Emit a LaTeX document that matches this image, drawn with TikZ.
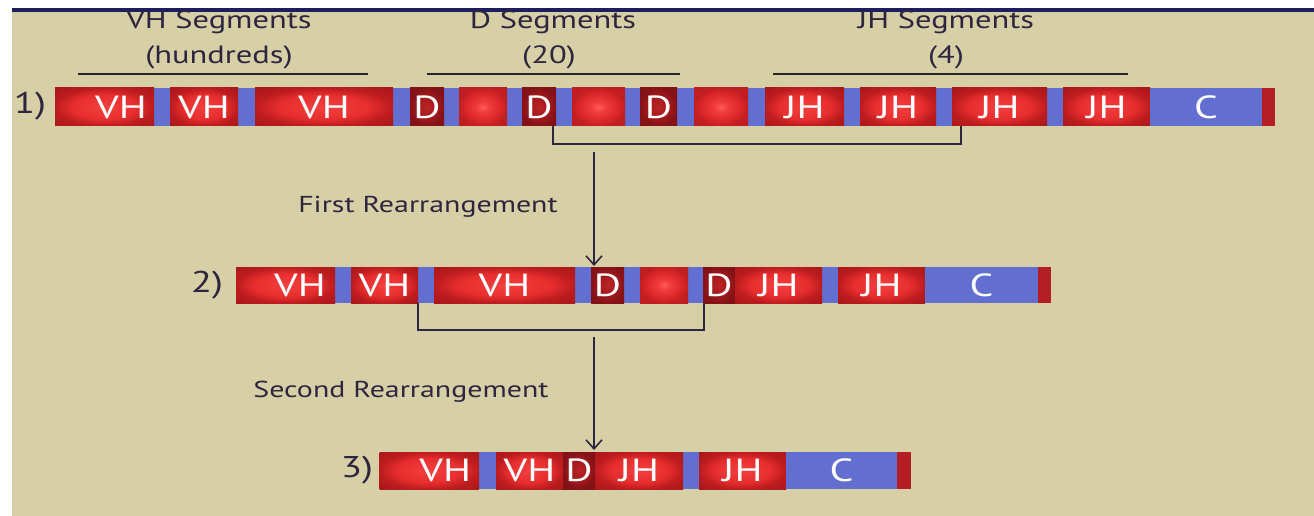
\documentclass[tikz,border=0pt]{standalone}
\usepackage{fontspec}
\setmainfont{PT Sans}
\newfontfamily\lblfont[FakeStretch=1.3]{PT Sans}
\usetikzlibrary{arrows.meta}
\definecolor{tanbg}{RGB}{215,207,166}
\definecolor{navy}{RGB}{28,30,95}
\definecolor{segblue}{RGB}{98,110,208}
\definecolor{endred}{RGB}{180,30,36}
\definecolor{ink}{RGB}{45,38,62}
\pgfdeclareradialshading{vhsh}{\pgfpoint{0bp}{0bp}}{rgb(0bp)=(0.95,0.25,0.25); rgb(16bp)=(0.91,0.18,0.18); rgb(25bp)=(0.74,0.11,0.12); rgb(36bp)=(0.66,0.09,0.10); rgb(50bp)=(0.66,0.09,0.10)}
\pgfdeclareradialshading{dotsh}{\pgfpoint{0bp}{0bp}}{rgb(0bp)=(1,0.36,0.36); rgb(7bp)=(0.95,0.23,0.23); rgb(20bp)=(0.84,0.14,0.15); rgb(25bp)=(0.76,0.12,0.13); rgb(50bp)=(0.72,0.11,0.12)}
\pgfdeclareradialshading{dsh}{\pgfpoint{0bp}{0bp}}{rgb(0bp)=(0.74,0.14,0.15); rgb(14bp)=(0.64,0.10,0.11); rgb(25bp)=(0.52,0.07,0.09); rgb(50bp)=(0.49,0.06,0.08)}
\tikzset{
  seg/.style={inner sep=0pt, outer sep=0pt, text=white, font=\lblfont\fontsize{32}{32}\selectfont},
  redseg/.style={seg, shade, shading=vhsh},
  dotseg/.style={seg, shade, shading=dotsh},
  dseg/.style={seg, shade, shading=dsh},
  blueseg/.style={seg, fill=segblue},
  endseg/.style={seg, fill=endred},
  lbl/.style={inner sep=0pt, text=ink, font=\lblfont\fontsize{25}{25}\selectfont},
  steplbl/.style={inner sep=0pt, text=ink, font=\lblfont\fontsize{23}{23}\selectfont},
  rowlbl/.style={inner sep=0pt, text=ink, font=\lblfont\fontsize{30}{30}\selectfont},
  rule/.style={draw=black!85, line width=1.8pt},
  bracket/.style={draw=ink, line width=1.8pt},
  arr/.style={draw=ink, line width=1.6pt, -{Straight Barb[length=9pt,width=16pt,line width=1.6pt]}}
}
\begin{document}
\begin{tikzpicture}[x=1pt,y=-1pt]
\useasboundingbox (0,0) rectangle (1314,516);
\fill[white] (0,0) rectangle (1314,516);
\fill[tanbg] (12,12) rectangle (1314,516);
\fill[navy] (12,8) rectangle (1314,12);

% header labels
\node[lbl] (vhs) at (219,22) {VH Segments};
\node[lbl] (vhn) at (219,57) {(hundreds)};
\node[lbl] (ds) at (553,22) {D Segments};
\node[lbl] (dn) at (549,57) {(20)};
\node[lbl] (jhs) at (946,22) {JH Segments};
\node[lbl] (jhn) at (946,57) {(4)};
\coordinate (l1a) at (78,74); \coordinate (l1b) at (368,74);
\coordinate (l2a) at (427,74); \coordinate (l2b) at (680,74);
\coordinate (l3a) at (773,74); \coordinate (l3b) at (1128,74);
\draw[rule] (l1a) -- (l1b);
\draw[rule] (l2a) -- (l2b);
\draw[rule] (l3a) -- (l3b);

% row 1
\node[rowlbl] (n1) at (30,106) {1)};
\begin{scope}[every node/.append style={minimum height=38pt}]
\node[blueseg, minimum width=1220pt] (bar1) at (665,107) {};
\node[redseg, minimum width=99pt] (a1) at (104.5,107) {\hspace*{33pt}VH};
\node[redseg, minimum width=68pt] (a2) at (204,107) {VH};
\node[redseg, minimum width=138pt] (a3) at (324,107) {VH};
\node[dseg, minimum width=34pt] (a4) at (427,107) {D};
\node[dotseg, minimum width=48pt] (a5) at (483,107) {};
\node[dseg, minimum width=34pt] (a6) at (539,107) {D};
\node[dotseg, minimum width=53pt] (a7) at (598.5,107) {};
\node[dseg, minimum width=37pt] (a8) at (658.5,107) {D};
\node[dotseg, minimum width=54pt] (a9) at (721,107) {};
\node[redseg, minimum width=79pt] (a10) at (804.5,107) {JH};
\node[redseg, minimum width=76pt] (a11) at (898,107) {JH};
\node[redseg, minimum width=95pt] (a12) at (999.5,107) {JH};
\node[redseg, minimum width=87pt] (a13) at (1106.5,107) {JH};
\node[blueseg, minimum width=112pt] (a14) at (1206,107) {C};
\node[endseg, minimum width=13pt] (a15) at (1268.5,107) {};
\end{scope}

% first bracket and arrow
\coordinate (b1a) at (553,126); \coordinate (b1b) at (553,144);
\coordinate (b1c) at (961,144); \coordinate (b1d) at (961,126);
\draw[bracket] (b1a) -- (b1b) -- (b1c) -- (b1d);
\coordinate (r1s) at (594,152); \coordinate (r1e) at (594,266);
\draw[arr] (r1s) -- (r1e);
\node[steplbl] (fr) at (428,207) {First Rearrangement};

% row 2
\node[rowlbl] (n2) at (207,285) {2)};
\begin{scope}[every node/.append style={minimum height=36pt}]
\node[blueseg, minimum width=815pt] (bar2) at (643.5,285) {};
\node[redseg, minimum width=99pt] (b1) at (285.5,285) {\hspace*{29pt}VH};
\node[redseg, minimum width=67pt] (b2) at (384.5,285) {VH};
\node[redseg, minimum width=141pt] (b3) at (504.5,285) {VH};
\node[dseg, minimum width=33pt] (b4) at (607.5,285) {D};
\node[dotseg, minimum width=48pt] (b5) at (664,285) {};
\node[dseg, minimum width=32pt] (b6) at (719,285) {D};
\node[redseg, minimum width=87pt] (b7) at (778.5,285) {JH};
\node[redseg, minimum width=87pt] (b8) at (881.5,285) {JH};
\node[blueseg, minimum width=113pt] (b9) at (981.5,285) {C};
\node[endseg, minimum width=13pt] (b10) at (1044.5,285) {};
\end{scope}

% second bracket and arrow
\coordinate (b2a) at (418,303); \coordinate (b2b) at (418,330);
\coordinate (b2c) at (704,330); \coordinate (b2d) at (704,303);
\draw[bracket] (b2a) -- (b2b) -- (b2c) -- (b2d);
\coordinate (r2s) at (594,337); \coordinate (r2e) at (594,450);
\draw[arr] (r2s) -- (r2e);
\node[steplbl] (sr) at (401,392) {Second Rearrangement};

% row 3
\node[rowlbl] (n3) at (357,470) {3)};
\begin{scope}[every node/.append style={minimum height=37pt}]
\node[blueseg, minimum width=531.5pt] (bar3) at (645.25,470.5) {};
\node[redseg, minimum width=99.5pt] (c1) at (429.25,470.5) {\hspace*{32pt}VH};
\node[redseg, minimum width=67pt] (c2) at (529.5,470.5) {VH};
\node[dseg, minimum width=32pt] (c3) at (579,470.5) {D};
\node[redseg, minimum width=88pt] (c4) at (639,470.5) {JH};
\node[redseg, minimum width=87pt] (c5) at (742.5,470.5) {JH};
\node[blueseg, minimum width=111pt] (c6) at (841.5,470.5) {C};
\node[endseg, minimum width=14pt] (c7) at (904,470.5) {};
\end{scope}
\end{tikzpicture}
\end{document}
